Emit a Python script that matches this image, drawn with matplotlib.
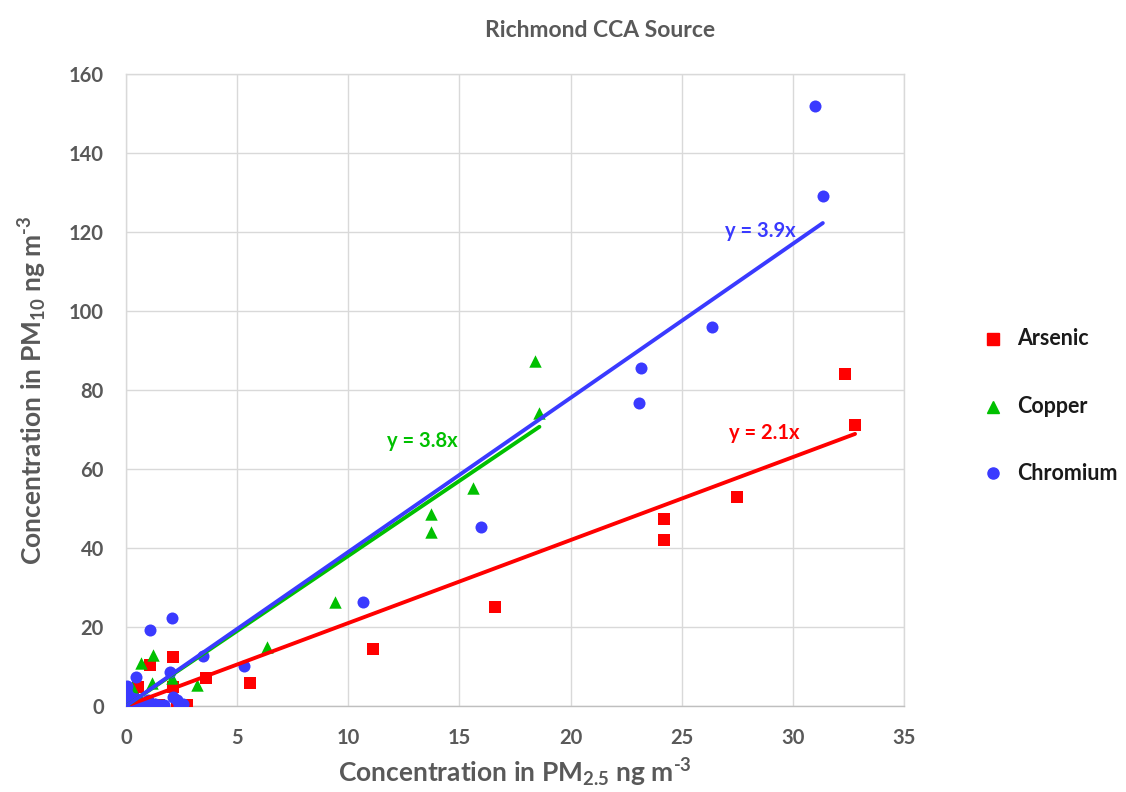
import matplotlib
matplotlib.use("Agg")
import matplotlib.pyplot as plt
import numpy as np

plt.rcParams["font.family"] = ["Lato", "DejaVu Sans"]
plt.rcParams["font.weight"] = "bold"
plt.rcParams["mathtext.fontset"] = "custom"
plt.rcParams["mathtext.bf"] = "Lato:bold"
plt.rcParams["mathtext.rm"] = "Lato:bold"
plt.rcParams["mathtext.default"] = "bf"

# PM2.5 (x) vs PM10 (y) concentrations, ng m-3
arsenic_x = [32.35, 32.8, 27.5, 24.2, 24.2, 16.6, 11.1, 5.6, 3.6, 2.1, 1.1, 2.1, 2.75,
             0.55, 0.0, 0.05, 0.1, 0.3, 0.8, 1.2, 1.5, 0.2, 2.3]
arsenic_y = [84.0, 71.1, 52.9, 47.3, 42.0, 25.0, 14.4, 5.8, 7.1, 12.4, 10.4, 4.8, 0.3,
             4.8, 4.0, 0.5, 1.5, 2.0, 0.4, 0.3, 0.2, 3.5, 0.2]

copper_x = [18.4, 18.6, 15.6, 13.7, 13.7, 9.4, 6.33, 3.18, 1.2, 0.66, 1.15, 2.05,
            0.25, 0.1, 0.4, 0.9, 1.6, 0.2, 0.7, 1.3]
copper_y = [87.3, 74.2, 55.2, 48.6, 44.0, 26.3, 15.0, 5.3, 12.9, 10.9, 5.8, 7.0,
            4.9, 0.3, 2.1, 0.5, 0.2, 1.2, 0.8, 0.4]

chromium_x = [31.0, 31.35, 26.35, 23.15, 23.06, 15.95, 10.67, 5.3, 3.48, 2.05, 1.08,
              0.45, 1.98, 0.03, 2.1, 2.3, 2.57, 2.4, 0.0, 0.1, 0.2, 0.35, 0.5, 0.7,
              0.9, 1.1, 1.3, 1.5, 1.7, 0.05, 0.15, 0.6, 1.0, 0.25]
chromium_y = [151.9, 129.1, 95.9, 85.6, 76.7, 45.3, 26.3, 10.0, 12.7, 22.3, 19.2,
              7.4, 8.7, 5.1, 2.4, 1.5, 0.5, 0.3, 0.5, 2.5, 1.2, 0.4, 1.8, 0.3,
              0.6, 0.2, 0.5, 0.3, 0.2, 3.2, 0.2, 1.0, 1.4, 2.0]

series_names = ["Arsenic", "Copper", "Chromium"]
series_slopes = [2.1, 3.8, 3.9]  # zero-intercept trendline slopes

RED = "#FF0000"
GREEN = "#00C000"
BLUE = "#3A3AFF"
GRAY = "#595959"
GRID = "#D9D9D9"

fig = plt.figure(figsize=(11.26, 7.92), dpi=100)
ax = fig.add_axes([0.1119, 0.1086, 0.6909, 0.798])

ax.scatter(arsenic_x, arsenic_y, marker="s", s=70, color=RED, linewidths=0, zorder=3)
ax.scatter(copper_x, copper_y, marker="^", s=80, color=GREEN, linewidths=0, zorder=3)
ax.scatter(chromium_x, chromium_y, marker="o", s=75, color=BLUE, linewidths=0, zorder=3)

# trendlines run from the origin to each series' largest x
for xs, slope, color in [(arsenic_x, series_slopes[0], RED),
                         (copper_x, series_slopes[1], GREEN),
                         (chromium_x, series_slopes[2], BLUE)]:
    xx = np.array([0.0, max(xs)])
    ax.plot(xx, slope * xx, color=color, linewidth=2.8, solid_capstyle="round", zorder=4)

eq_font = dict(fontsize=14.5, fontweight="bold")
ax.text(26.95, 120.2, f"y = {series_slopes[2]}x", color=BLUE, ha="left", va="center", **eq_font)
ax.text(11.75, 67.1, f"y = {series_slopes[1]}x", color=GREEN, ha="left", va="center", **eq_font)
ax.text(27.15, 69.2, f"y = {series_slopes[0]}x", color=RED, ha="left", va="center", **eq_font)

ax.set_xlim(0, 35)
ax.set_ylim(0, 160)
ax.set_xticks(range(0, 36, 5))
ax.set_yticks(range(0, 161, 20))
ax.grid(True, color=GRID, linewidth=1.0)
ax.set_axisbelow(True)
for side in ["top", "right", "left", "bottom"]:
    ax.spines[side].set_color(GRID)
    ax.spines[side].set_linewidth(1.0)
ax.spines["bottom"].set_color("#BFBFBF")
ax.tick_params(length=0, pad=16, labelsize=14.5, labelcolor=GRAY)

ax.set_xlabel(r"Concentration in PM$_{2.5}$ ng m$^{\text{-}3}$",
              fontsize=19, fontweight="bold", color=GRAY, labelpad=6)
ax.set_ylabel(r"Concentration in PM$_{10}$ ng m$^{\text{-}3}$",
              fontsize=19, fontweight="bold", color=GRAY, labelpad=14)

fig.text(0.533, 0.962, "Richmond CCA Source", ha="center", va="center",
         fontsize=16.5, fontweight="bold", color=GRAY)

# legend on the right, one row per element
leg_markers = ["s", "^", "o"]
leg_colors = [RED, GREEN, BLUE]
leg_y = [1 - 339 / 792, 1 - 407 / 792, 1 - 473 / 792]
for name, mk, col, yy in zip(series_names, leg_markers, leg_colors, leg_y):
    fig.lines.append(matplotlib.lines.Line2D([993 / 1126], [yy], marker=mk, color=col,
                                             markersize=8, linestyle="none",
                                             transform=fig.transFigure))
    fig.text(1017 / 1126, yy, name, ha="left", va="center", fontsize=15.5,
             fontweight="bold", color="#1A1A1A")

fig.savefig("out.png", dpi=100)
